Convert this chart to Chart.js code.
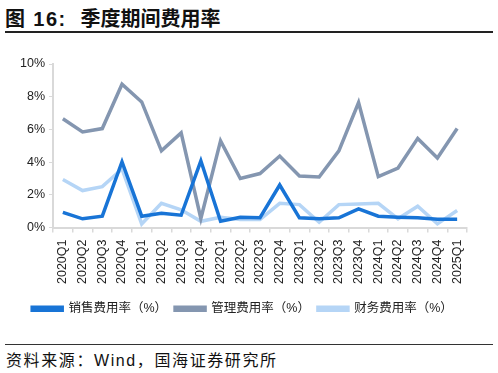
<!DOCTYPE html>
<html>
<head>
<meta charset="utf-8">
<script src="https://cdn.jsdelivr.net/npm/chart.js@4.4.0/dist/chart.umd.min.js"></script>
<style>
  body { margin: 0; width: 498px; height: 373px; background: #fff; position: relative; overflow: hidden;
         font-family: "Liberation Sans", "Noto Sans CJK SC", sans-serif; }
  #title { position: absolute; left: 5px; top: 3px; font-size: 20px; font-weight: bold; color: #111; white-space: nowrap; }
  #title .num { letter-spacing: 1.4px; }
  #title .txt { margin-left: 14px; }
  #rule1 { position: absolute; left: 5px; top: 31px; width: 488px; height: 2px; background: #222; }
  #rule2 { position: absolute; left: 5px; top: 344px; width: 488px; height: 1px; background: #333; }
  #source { position: absolute; left: 6px; top: 347px; font-size: 16px; letter-spacing: 1.6px; color: #111; white-space: nowrap; }
  #wrap { position: absolute; left: 0; top: 40px; }
</style>
</head>
<body>
<div id="title"><span class="num">图 16:</span><span class="txt">季度期间费用率</span></div>
<div id="rule1"></div>
<div id="wrap"><canvas id="chart1" width="498" height="290"></canvas></div>
<div id="rule2"></div>
<div id="source">资料来源：Wind，国海证券研究所</div>
<script>
var quarters = ['2020Q1','2020Q2','2020Q3','2020Q4','2021Q1','2021Q2','2021Q3','2021Q4',
  '2022Q1','2022Q2','2022Q3','2022Q4','2023Q1','2023Q2','2023Q3','2023Q4',
  '2024Q1','2024Q2','2024Q3','2024Q4','2025Q1'];

// 销售费用率
var salesRate = [0.93, 0.53, 0.69, 4.02, 0.69, 0.87, 0.75, 4.08, 0.38, 0.63, 0.6,
  2.6, 0.59, 0.53, 0.59, 1.14, 0.69, 0.63, 0.59, 0.5, 0.5];
// 管理费用率
var adminRate = [6.65, 5.85, 6.05, 8.76, 7.68, 4.69, 5.79, 0.55, 5.3, 3.0, 3.3,
  4.37, 3.15, 3.09, 4.69, 7.64, 3.11, 3.64, 5.45, 4.25, 6.05];
// 财务费用率
var financeRate = [2.93, 2.26, 2.5, 3.58, 0.22, 1.48, 1.08, 0.38, 0.63, 0.49, 0.49,
  1.48, 1.4, 0.32, 1.4, 1.44, 1.48, 0.53, 1.3, 0.22, 1.04];

var seriesNames = ['销售费用率（%）', '管理费用率（%）', '财务费用率（%）'];
var seriesColors = ['#1874d6', '#8496b0', '#b5d5f6'];

var FONT = '"Liberation Sans", "Noto Sans CJK SC", sans-serif';

function makeSet(i, values) {
  return {
    label: seriesNames[i],
    data: values,
    borderColor: seriesColors[i],
    backgroundColor: seriesColors[i],
    borderWidth: 3.5,
    pointRadius: 0,
    tension: 0,
    fill: false
  };
}

var chart = new Chart(document.getElementById('chart1'), {
  type: 'line',
  data: {
    labels: quarters,
    datasets: [makeSet(0, salesRate), makeSet(1, adminRate), makeSet(2, financeRate)]
  },
  options: {
    responsive: false,
    animation: false,
    layout: { padding: { left: 18, right: 31, top: 24, bottom: 5 } },
    plugins: {
      tooltip: { enabled: false },
      legend: {
        position: 'bottom',
        labels: {
          boxWidth: 30,
          boxHeight: 3,
          padding: 8,
          color: '#222',
          font: { family: FONT, size: 12.5 }
        }
      }
    },
    scales: {
      x: {
        offset: true,
        grid: { offset: true, drawOnChartArea: false, tickLength: 5, color: '#d9d9d9', lineWidth: 1.5 },
        border: { color: '#d9d9d9', width: 2 },
        ticks: { maxRotation: 90, minRotation: 90, autoSkip: false, color: '#222', padding: 7,
                 font: { family: FONT, size: 12.5 } },
        afterFit: function (s) { s.height = 67; }
      },
      y: {
        min: 0,
        max: 10,
        grid: { drawOnChartArea: false, tickLength: 4, color: '#d9d9d9' },
        border: { color: '#d9d9d9', width: 2 },
        ticks: { stepSize: 2, color: '#222', padding: 4, font: { family: FONT, size: 12.5 },
                 callback: function (v) { return v + '%'; } },
        afterFit: function (s) { s.width = 35; }
      }
    }
  }
});
</script>
</body>
</html>
